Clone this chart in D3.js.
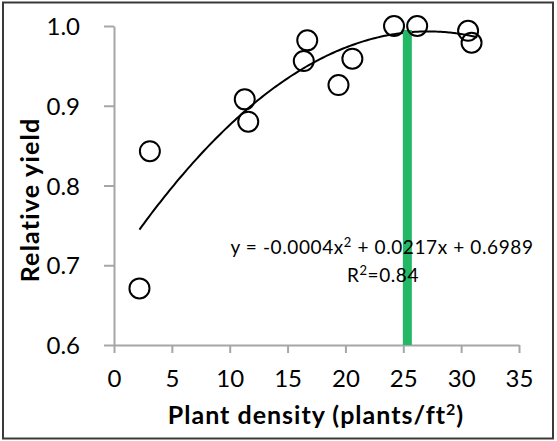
<!DOCTYPE html>
<html lang="en">
<meta charset="UTF-8">
<style>
body {margin:0; background:#fff}
svg text {font-family: "Lato", sans-serif}
</style>
<body>
<div id="chart"></div>
<script src="https://d3js.org/d3.v7.min.js"></script>
<script>
// data
var density = [2.2, 3.1, 11.3, 11.6, 16.4, 16.7, 19.4, 20.6, 24.2, 26.2, 30.6, 30.9]
var yieldVals = [0.671, 0.843, 0.908, 0.880, 0.956, 0.982, 0.926, 0.959, 1.000, 1.000, 0.994, 0.979]
var xTicks = [0, 5, 10, 15, 20, 25, 30, 35]
var yTicks = [0.6, 0.7, 0.8, 0.9, 1.0]
// quadratic trend: y = a x^2 + b x + c
var coef = [-0.0004, 0.0217, 0.6989]
var trendRange = [2.2, 31.4]
var optimum = {x: 25.35, top: 0.995}

var W = 557, H = 441
var margin = {top: 26, right: 38, bottom: 96, left: 114}
var width = W - margin.left - margin.right,
    height = H - margin.top - margin.bottom

var svg = d3.select("#chart").append("svg")
    .attr("width", W)
    .attr("height", H)

// outer frame
svg.append("rect")
    .attr("x", 3).attr("y", 2.5)
    .attr("width", 550).attr("height", 436)
    .attr("fill", "none")
    .attr("stroke", "#3a3a3a")
    .attr("stroke-width", 2)

var g = svg.append("g")
    .attr("transform", "translate(" + margin.left + "," + margin.top + ")")

var x = d3.scaleLinear().domain([0, 35]).range([0, width])
var y = d3.scaleLinear().domain([0.6, 1.0]).range([height, 0])

// axes
var xAxis = g.append("g")
    .attr("transform", "translate(0," + height + ")")
    .call(d3.axisBottom(x).tickValues(xTicks).tickFormat(d3.format("d")).tickSize(8).tickSizeOuter(0).tickPadding(17))
var yAxis = g.append("g")
    .call(d3.axisLeft(y).tickValues(yTicks).tickFormat(d3.format(".1f")).tickSize(10).tickSizeOuter(0).tickPadding(24))

g.selectAll(".domain, .tick line").attr("stroke", "#a6a6a6").attr("stroke-width", 2)
g.selectAll(".tick text").attr("fill", "#000").style("font-size", "24px")
yAxis.selectAll(".tick text").attr("dy", "0.36em")

// axis titles
svg.append("text")
    .attr("x", 316).attr("y", 424)
    .attr("text-anchor", "middle")
    .style("font-size", "25px").style("font-weight", "bold").style("letter-spacing", "1px")
    .html("Plant density (plants/ft<tspan dy='-9' font-size='16px'>2</tspan><tspan dy='9'>)</tspan>")

svg.append("text")
    .attr("transform", "translate(39,200) rotate(-90)")
    .attr("text-anchor", "middle")
    .style("font-size", "25px").style("font-weight", "bold").style("letter-spacing", "1.2px")
    .text("Relative yield")

// trend line
var trendX = d3.range(trendRange[0], trendRange[1] + 0.001, 0.2)
var line = d3.line()
    .x(function(d){ return x(d) })
    .y(function(d){ return y(coef[0]*d*d + coef[1]*d + coef[2]) })
    .curve(d3.curveBasis)
g.append("path")
    .datum(trendX)
    .attr("d", line)
    .attr("fill", "none")
    .attr("stroke", "#000")
    .attr("stroke-width", 2)

// optimum marker
g.append("rect")
    .attr("x", x(optimum.x) - 4.5)
    .attr("y", y(optimum.top))
    .attr("width", 9)
    .attr("height", y(0.6) - y(optimum.top))
    .attr("fill", "#22b865")

// points
g.selectAll("circle.pt")
    .data(density)
    .enter().append("circle")
    .attr("class", "pt")
    .attr("cx", function(d){ return x(d) })
    .attr("cy", function(d, i){ return y(yieldVals[i]) })
    .attr("r", 10)
    .attr("fill", "none")
    .attr("stroke", "#000")
    .attr("stroke-width", 2)

// equation labels
svg.append("text")
    .attr("x", 382).attr("y", 254)
    .attr("text-anchor", "middle")
    .style("font-size", "19px").style("letter-spacing", "0.6px")
    .html("y = -0.0004x<tspan dy='-7' font-size='13px'>2</tspan><tspan dy='7'> + 0.0217x + 0.6989</tspan>")
svg.append("text")
    .attr("x", 383).attr("y", 282)
    .attr("text-anchor", "middle")
    .style("font-size", "19px").style("letter-spacing", "0.6px")
    .html("R<tspan dy='-7' font-size='13px'>2</tspan><tspan dy='7'>=0.84</tspan>")
</script>
</body>
</html>
